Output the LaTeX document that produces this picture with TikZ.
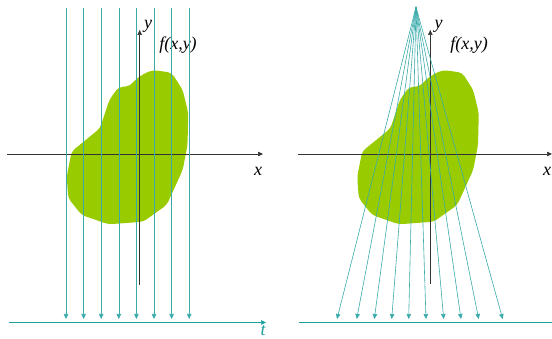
\documentclass[tikz,border=0pt]{standalone}
\usepackage{fontspec}
\setmainfont{Liberation Serif}
\usetikzlibrary{arrows.meta}

\definecolor{blobgreen}{HTML}{99CC00}
\definecolor{raycol}{HTML}{3AAAAA}
\definecolor{detcol}{HTML}{1F9E9E}

\begin{document}
\begin{tikzpicture}[x=1pt, y=-1pt,
    every node/.style={font=\fontsize{18}{21}\selectfont\itshape, inner sep=1pt},
    axis/.style={black!80, line width=0.5pt, -{Triangle[length=5pt, width=4.5pt]}},
    ray/.style={raycol, line width=0.6pt, -{Triangle[length=5pt, width=4.5pt]}},
    detector/.style={detcol, line width=0.7pt, -{Triangle[length=5pt, width=4.5pt]}},
    blob/.style={fill=blobgreen, rounded corners=4pt}]

    \useasboundingbox (0,0) rectangle (552,339);

    % Object, same shape in both panels
    \foreach \dx in {0,290.5} {
        \fill[blob, xshift=\dx] (152.7,70) -- (171.7,72.7) -- (182.7,90) -- (188.3,113)
            -- (187.5,145) -- (182.7,170) -- (166.7,205) -- (143.3,221.7) -- (108.3,224.3)
            -- (81.7,215) -- (68.3,198.3) -- (66.7,176.7) -- (71.7,151.3) -- (81.7,143.3)
            -- (100,128.3) -- (109.3,100) -- (118.3,87.3) -- (130,86) -- (135,80)
            -- (143.3,74) -- cycle;
    }

    % Axes, parallel beam
    \coordinate (xl0) at (7,154);     \coordinate (xl1) at (263,154);
    \coordinate (yl0) at (139.7,285); \coordinate (yl1) at (139.7,30);
    \draw[axis] (xl0) -- (xl1);
    \draw[axis] (yl0) -- (yl1);
    \node (xlab) at (258,171) {x};
    \node (ylab) at (148,26) {y};
    \node (flab) at (178,45) {f(x,y)};

    % Parallel rays
    \foreach \i in {0,...,7} {
        \coordinate (pt\i) at ({66+17.6*\i},8);
        \coordinate (pb\i) at ({66+17.6*\i},319);
        \draw[ray] (pt\i) -- (pb\i);
    }

    % Detector line t
    \coordinate (tl0) at (9,322.5); \coordinate (tl1) at (266,322.5);
    \draw[detector] (tl0) -- (tl1);
    \node[detcol] (tlab) at (263,331) {t};

    % Axes, fan beam
    \coordinate (xr0) at (298,154);   \coordinate (xr1) at (552,154);
    \coordinate (yr0) at (430.3,284); \coordinate (yr1) at (430.3,30);
    \draw[axis] (xr0) -- (xr1);
    \draw[axis] (yr0) -- (yr1);
    \node (xrlab) at (547,171) {x};
    \node (yrlab) at (438.5,26) {y};
    \node (frlab) at (469,45) {f(x,y)};

    % Fan rays from the source
    \coordinate (src) at (416,7);
    \foreach \x [count=\k] in {337,356.7,374.3,391.7,408.7,426,443.7,461,478.7,502.7} {
        \coordinate (fb\k) at (\x,319);
        \draw[ray] (src) -- (fb\k);
    }

    % Detector line, fan beam
    \coordinate (tr0) at (299,322.5); \coordinate (tr1) at (552,322.5);
    \draw[detcol, line width=0.7pt] (tr0) -- (tr1);

\end{tikzpicture}
\end{document}
